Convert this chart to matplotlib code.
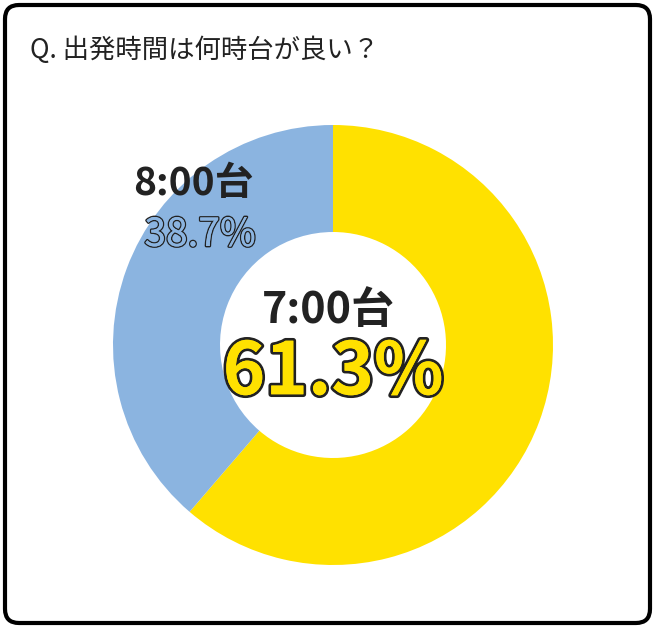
import matplotlib
matplotlib.use("Agg")
import matplotlib.pyplot as plt
import matplotlib.patheffects as pe
from matplotlib.patches import FancyBboxPatch

plt.rcParams["font.family"] = ["Noto Sans CJK JP", "DejaVu Sans"]

title = "Q. 出発時間は何時台が良い？"
labels = ["7:00台", "8:00台"]
shares = [61.3, 38.7]
colors = ["#FFE100", "#8BB4E0"]

W, H = 655, 628
fig = plt.figure(figsize=(W / 100, H / 100), dpi=100)
ax = fig.add_axes([0, 0, 1, 1])
ax.set_xlim(0, W)
ax.set_ylim(0, H)
ax.set_aspect("equal")
ax.axis("off")

ax.add_patch(FancyBboxPatch((5, 5), W - 10, H - 10, boxstyle="round,pad=0,rounding_size=14",
                            facecolor="white", edgecolor="black", linewidth=3))
ax.text(30, H - 50, title, fontsize=19, ha="left", va="center", color="#222222")

cx, cy, r = 333, H - 345, 220
ax.pie(shares, colors=colors, startangle=90, counterclock=False, center=(cx, cy), radius=r,
       wedgeprops=dict(width=107, linewidth=0), frame=True)
ax.set_xlim(0, W)
ax.set_ylim(0, H)
ax.axis("off")

ax.text(cx - 140, H - 183, labels[1], fontsize=28, fontweight="bold", ha="center", va="center", color="#222222")
ax.text(cx - 133, H - 235, f"{shares[1]}%", fontsize=28, ha="center", va="center", color="#8BB4E0",
        path_effects=[pe.withStroke(linewidth=2, foreground="#222222"), pe.Normal()])
ax.text(cx - 5, H - 310, labels[0], fontsize=31, fontweight="bold", ha="center", va="center", color="#222222")
ax.text(cx, H - 373, f"{shares[0]}%", fontsize=52, fontweight="bold", ha="center", va="center", color="#FFE100",
        path_effects=[pe.withStroke(linewidth=4, foreground="#222222"), pe.Normal()])

fig.savefig("out.png", dpi=100)
